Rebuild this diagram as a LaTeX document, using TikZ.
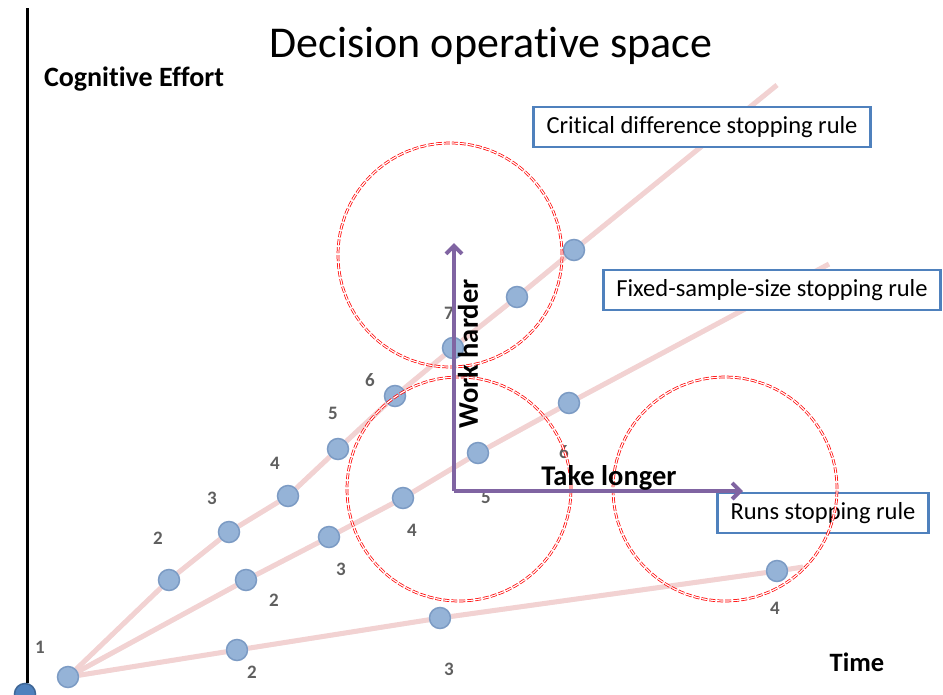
\documentclass[tikz,border=0pt]{standalone}
\usepackage{fontspec}
\setmainfont{Carlito}[Ligatures=NoCommon]
\usetikzlibrary{arrows.meta,backgrounds}
\definecolor{dotBlue}{RGB}{149,179,215}
\definecolor{dotEdge}{RGB}{124,155,196}
\definecolor{axisBlue}{RGB}{79,129,189}
\definecolor{trackPink}{RGB}{242,210,210}
\definecolor{ruleBlue}{RGB}{79,129,189}
\definecolor{arrowPurple}{RGB}{128,100,162}
\definecolor{stepGray}{RGB}{95,95,95}

\begin{document}
\begin{tikzpicture}[x=1pt,y=-1pt]
\tikzstyle{dot} = [circle, draw=dotEdge, fill=dotBlue, line width=1.5pt, minimum size=21pt, inner sep=0pt]
\tikzstyle{num} = [text=stepGray, font=\fontsize{19}{19}\selectfont\bfseries]
\tikzstyle{track} = [draw=trackPink, line width=5pt, preaction={draw=black, opacity=0.08, transform canvas={shift={(1,2)}}}]
\tikzstyle{rulebox} = [draw=ruleBlue, fill=white, line width=2.5pt, font=\fontsize{24.5}{24.5}\selectfont, minimum height=40pt, inner xsep=13pt]
\tikzstyle{zone} = [draw=red, double=white, double distance=1.2pt, line width=0.75pt, dash pattern=on 6pt off 2pt]
\tikzstyle{push} = [draw=arrowPurple, line width=4pt, -{Straight Barb[length=8pt,width=16pt]}]
\tikzstyle{big} = [font=\fontsize{28.5}{28.5}\selectfont\bfseries]
\useasboundingbox (0,0) rectangle (943,694);

% axis
\node[dot, draw=axisBlue!80!black, fill=axisBlue] (base) at (25,694) {};
\coordinate (top) at (27,8);
\draw[line width=3pt] (top) -- (base.north -| top);

% dots
\node[dot] (o) at (68,677) {};
\node[dot] (a1) at (169,580) {};
\node[dot] (a2) at (229,532) {};
\node[dot] (a3) at (288,496) {};
\node[dot] (a4) at (338,449) {};
\node[dot] (a5) at (395,396) {};
\node[dot] (a6) at (453,348) {};
\node[dot] (a7) at (517,297) {};
\node[dot] (a8) at (574,250) {};
\node[dot] (b1) at (246,580) {};
\node[dot] (b2) at (329,537) {};
\node[dot] (b3) at (403,498) {};
\node[dot] (b4) at (478,453) {};
\node[dot] (b5) at (569,403) {};
\node[dot] (c1) at (237,650) {};
\node[dot] (c2) at (440,618) {};
\node[dot] (c3) at (777,571) {};
\coordinate (aend) at (777,85);
\coordinate (bend) at (829,264);
\coordinate (cend) at (803,567);

\begin{scope}[on background layer]
\draw[track] (o) -- (a1) -- (a2) -- (a3) -- (a4) -- (a5) -- (a6) -- (a7) -- (a8) -- (aend);
\draw[track] (o) -- (b1) -- (b2) -- (b3) -- (b4) -- (b5) -- (bend);
\draw[track] (o) -- (c1) -- (c2) -- (c3) -- (cend);
\end{scope}

% step numbers
\node[num] (n1) at (40,647) {1};
\node[num] (na2) at (158,538) {2};
\node[num] (na3) at (212,498) {3};
\node[num] (na4) at (275,463) {4};
\node[num] (na5) at (333,413) {5};
\node[num] (na6) at (370,380) {6};
\node[num] (na7) at (449,313) {7};
\node[num] (nb2) at (274,600) {2};
\node[num] (nb3) at (341,569) {3};
\node[num] (nb4) at (412,530) {4};
\node[num] (nb5) at (486,497) {5};
\node[num] (nb6) at (564,452) {6};
\node[num] (nc2) at (252,672) {2};
\node[num] (nc3) at (449,669) {3};
\node[num] (nc4) at (775,608) {4};

% rules
\node[rulebox] (critical) at (702,127) {Critical difference stopping rule};
\node[rulebox] (fixed) at (772,290) {Fixed-sample-size stopping rule};
\node[rulebox] (runs) at (823,513) {Runs stopping rule};

% regions
\draw[zone] (450,255) circle [radius=112pt];
\draw[zone] (459,489) circle [radius=112pt];
\draw[zone] (725,489) circle [radius=112pt];

% directions
\coordinate (cross) at (454,491);
\coordinate (up) at (454,243);
\coordinate (right) at (743,491);
\draw[push] (cross) -- (up);
\draw[push] (cross) -- (right);
\node[big, rotate=90] (harder) at (468,354) {Work harder};
\node[big] (longer) at (609,478) {Take longer};

% titles
\node[font=\fontsize{44}{44}\selectfont] (title) at (491,46) {Decision operative space};
\node[font=\fontsize{28}{28}\selectfont\bfseries] (effort) at (134,79) {Cognitive Effort};
\node[font=\fontsize{26.5}{26.5}\selectfont\bfseries] (time) at (857,662) {Time};
\end{tikzpicture}
\end{document}
